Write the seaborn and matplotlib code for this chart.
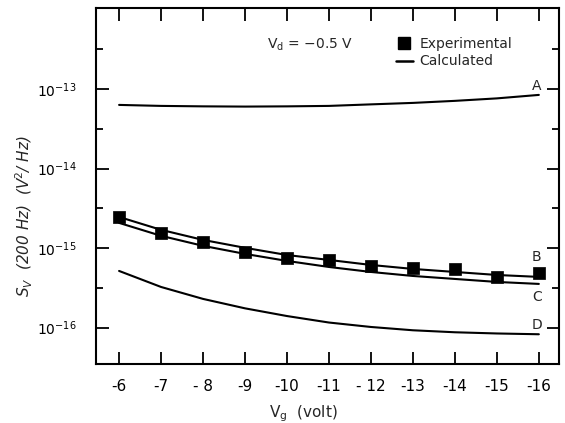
import numpy as np
import pandas as pd
import matplotlib
matplotlib.use("Agg")
import matplotlib.pyplot as plt
from matplotlib.lines import Line2D
from matplotlib.ticker import FixedLocator, NullFormatter
import seaborn as sns

# ---- data ----
vg = [-6, -7, -8, -9, -10, -11, -12, -13, -14, -15, -16]
curve_A = [6.34e-14, 6.16e-14, 6.08e-14, 6.04e-14, 6.08e-14, 6.16e-14, 6.44e-14, 6.72e-14, 7.13e-14, 7.66e-14, 8.47e-14]
curve_B = [2.47e-15, 1.70e-15, 1.27e-15, 1.01e-15, 8.2e-16, 7.11e-16, 6.15e-16, 5.48e-16, 5.02e-16, 4.6e-16, 4.35e-16]
curve_C = [2.08e-15, 1.43e-15, 1.07e-15, 8.47e-16, 6.91e-16, 5.8e-16, 5.02e-16, 4.47e-16, 4.1e-16, 3.76e-16, 3.55e-16]
curve_D = [5.17e-16, 3.25e-16, 2.30e-16, 1.75e-16, 1.40e-16, 1.16e-16, 1.02e-16, 9.27e-17, 8.75e-17, 8.45e-17, 8.26e-17]
experimental = [2.49e-15, 1.56e-15, 1.21e-15, 9.04e-16, 7.47e-16, 7.11e-16, 5.98e-16, 5.69e-16, 5.43e-16, 4.38e-16, 4.84e-16]
curve_names = ["A", "B", "C", "D"]
curve_label_y = [1.1e-13, 7.76e-16, 2.44e-16, 1.08e-16]
x_ticks = [-6, -7, -8, -9, -10, -11, -12, -13, -14, -15, -16]
x_tick_labels = ["-6", "-7", "- 8", "-9", "-10", "-11", "- 12", "-13", "-14", "-15", "-16"]
y_major = [1e-13, 1e-14, 1e-15, 1e-16]
y_major_labels = ["$10^{-13}$", "$10^{-14}$", "$10^{-15}$", "$10^{-16}$"]
y_minor = [10**-12.5, 10**-13.5, 10**-14.5, 10**-15.5]

lines_df = pd.DataFrame({
    "Vg": vg * 4,
    "Sv": curve_A + curve_B + curve_C + curve_D,
    "curve": sum([[n] * len(vg) for n in curve_names], []),
})
exp_df = pd.DataFrame({"Vg": vg, "Sv": experimental})

sns.set_theme(style="ticks")
plt.rcParams["font.family"] = ["DejaVu Sans"]
plt.rcParams["mathtext.fontset"] = "dejavusans"

W, H = 565, 423
fig = plt.figure(figsize=(W / 100, H / 100), dpi=100)
L, R, T, B = 96, 559, 8, 364
ax = fig.add_axes([L / W, 1 - B / H, (R - L) / W, (B - T) / H])

sns.lineplot(data=lines_df, x="Vg", y="Sv", units="curve", estimator=None,
             color="black", linewidth=1.5, ax=ax, legend=False)
sns.scatterplot(data=exp_df, x="Vg", y="Sv", marker="s", s=80, color="black",
                edgecolor="black", linewidth=0.5, ax=ax, legend=False, zorder=5)

ax.set_yscale("log")
ax.set_xlim(-5.45, -16.48)
ax.set_ylim(3.49e-17, 1.05e-12)

ax.set_xticks(x_ticks)
ax.set_xticklabels(x_tick_labels)
ax.yaxis.set_major_locator(FixedLocator(y_major))
ax.set_yticklabels(y_major_labels)
ax.yaxis.set_minor_locator(FixedLocator(y_minor))
ax.yaxis.set_minor_formatter(NullFormatter())

for s in ax.spines.values():
    s.set_linewidth(1.5)
    s.set_color("black")

ax.tick_params(axis="both", which="major", direction="in", length=9, width=1.3,
               top=True, right=True, colors="black")
ax.tick_params(axis="y", which="minor", direction="in", length=5, width=1.3,
               right=True, left=True, colors="black")
ax.tick_params(axis="x", labelsize=11, pad=11)
ax.tick_params(axis="y", labelsize=10, pad=14)

ax.set_xlabel("V$_{\\mathregular{g}}$  (volt)", fontsize=11)
ax.xaxis.set_label_coords((303 - L) / (R - L), (B - 403) / (B - T))
ax.set_ylabel("$S_V$  (200 Hz)  (V$^2$/ Hz)", fontsize=11, style="italic")
ax.yaxis.set_label_coords((35 - L) / (R - L), (B - 216) / (B - T))

# curve labels
for n, ly in zip(curve_names, curve_label_y):
    ax.text(-15.95, ly, n, fontsize=10, ha="center", va="center")

ax.text((267 - L) / (R - L), (B - 45) / (B - T), "V$_{\\mathregular{d}}$ = \u22120.5 V",
        transform=ax.transAxes, fontsize=10, ha="left", va="center")

handles = [Line2D([], [], marker="s", ls="none", color="black", markersize=9),
           Line2D([], [], color="black", linewidth=1.8)]
ax.legend(handles, ["Experimental", "Calculated"], loc="upper left",
          bbox_to_anchor=(396 / W, 1 - 37 / H), bbox_transform=fig.transFigure,
          frameon=False, fontsize=10, handlelength=1.2, handletextpad=0.5,
          borderpad=0, borderaxespad=0, labelspacing=0.25)

fig.savefig("out.png", dpi=100)
